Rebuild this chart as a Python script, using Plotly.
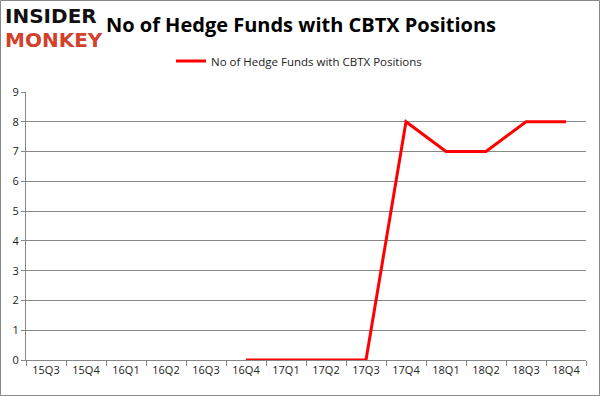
import plotly.graph_objects as go

categories = ["15Q3", "15Q4", "16Q1", "16Q2", "16Q3", "16Q4", "17Q1", "17Q2",
              "17Q3", "17Q4", "18Q1", "18Q2", "18Q3", "18Q4"]
funds = [None, None, None, None, None, 0, 0, 0, 0, 8, 7, 7, 8, 8]
y_ticks = list(range(0, 10))

W, H = 601, 396
ml, mr, mt, mb = 26, 15, 92, 36
pw = W - ml - mr
ph = H - mt - mb

fig = go.Figure()
fig.add_trace(go.Scatter(
    x=categories, y=funds, mode="lines",
    name="No of Hedge Funds with CBTX Positions",
    line=dict(color="#ff0000", width=3),
    connectgaps=False,
))

fig.update_layout(
    width=W, height=H,
    margin=dict(l=ml, r=mr, t=mt, b=mb, autoexpand=False),
    paper_bgcolor="white", plot_bgcolor="white",
    font=dict(family="Open Sans, Noto Sans, sans-serif", color="#222222", size=11),
    showlegend=True,
    legend=dict(orientation="h", x=(299 - ml) / pw, xanchor="center", y=1 + 31 / ph, yanchor="middle",
                font=dict(size=11.5, color="#222222"), bgcolor="rgba(0,0,0,0)"),
    title=dict(text="<b>No of Hedge Funds with CBTX Positions</b>",
               x=301 / W, xanchor="center", y=1 - 25 / H, yanchor="middle",
               font=dict(size=20, color="#000000", family="Open Sans, sans-serif")),
    xaxis=dict(
        type="category", categoryorder="array", categoryarray=categories,
        range=[-0.5, len(categories) - 0.5], automargin=False,
        tickson="boundaries", ticks="outside", ticklen=5, tickcolor="#888888",
        showline=True, linecolor="#888888", linewidth=1,
        showgrid=False, tickfont=dict(size=11, color="#222222"),
        fixedrange=True,
    ),
    yaxis=dict(
        range=[0, 9], tickvals=y_ticks, ticks="outside", ticklen=4, tickcolor="#888888",
        showline=True, linecolor="#888888", linewidth=1, automargin=False,
        showgrid=True, gridcolor="#888888", gridwidth=1,
        zeroline=False, tickfont=dict(size=11, color="#222222"),
        fixedrange=True,
    ),
)

# outer frame
fig.add_shape(type="rect", xref="paper", yref="paper",
              x0=(0.5 - ml) / pw, x1=(599.5 - ml) / pw,
              y0=-(mb - 0.5) / ph, y1=1 + (mt - 0.5) / ph,
              line=dict(color="#888888", width=1), fillcolor="rgba(0,0,0,0)", layer="below")

# logo
logo_font = "DejaVu Sans, sans-serif"
fig.add_annotation(text="<b>INSIDER</b>", xref="paper", yref="paper",
                   x=(4 - ml) / pw, y=1 + (mt - 16) / ph, xanchor="left", yanchor="middle",
                   borderpad=0,
                   showarrow=False, font=dict(size=20, color="#111111", family=logo_font))
fig.add_annotation(text="<b>MONKEY</b>", xref="paper", yref="paper",
                   x=(4 - ml) / pw, y=1 + (mt - 40) / ph, xanchor="left", yanchor="middle",
                   borderpad=0,
                   showarrow=False, font=dict(size=20, color="#d2412c", family=logo_font))

fig.write_html("out.html", config={"displayModeBar": False},
               post_script="document.body.style.margin='0';")
